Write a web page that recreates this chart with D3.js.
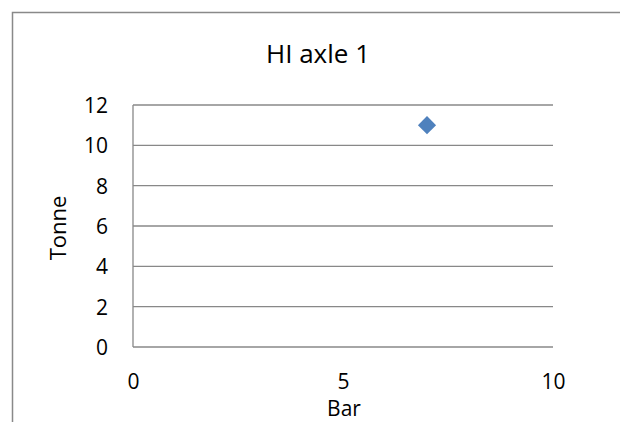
<!DOCTYPE html>
<html>
<head>
<meta charset="utf-8">
<script src="https://cdn.jsdelivr.net/npm/d3@7"></script>
<style>
  body { margin: 0; background: #fff; }
  text { font-family: "Open Sans", sans-serif; fill: #000; }
</style>
</head>
<body>
<div id="chart-container"></div>
<script>
const title = "HI axle 1";
const xLabel = "Bar";
const yLabel = "Tonne";
const xValues = [7];
const yValues = [11];
const xTicks = [0, 5, 10];
const yTicks = [0, 2, 4, 6, 8, 10, 12];

const W = 620, H = 422;
const margin = {top: 105, right: 67, bottom: 75, left: 133},
      width = W - margin.left - margin.right,
      height = H - margin.top - margin.bottom;

const svg = d3.select("#chart-container").append("svg")
    .attr("width", W)
    .attr("height", H);

// outer chart frame (runs off the right and bottom edges)
svg.append("path")
    .attr("d", `M12.5,${H + 5}V12.5H${W + 5}`)
    .attr("fill", "none")
    .attr("stroke", "#898989")
    .attr("stroke-width", 1.5);

svg.append("text")
    .attr("x", 318)
    .attr("y", 63)
    .attr("text-anchor", "middle")
    .style("font-size", "26px")
    .text(title);

const g = svg.append("g")
    .attr("transform", `translate(${margin.left}, ${margin.top})`);

const x = d3.scaleLinear().domain([0, 10]).range([0, width]);
const y = d3.scaleLinear().domain([0, 12]).range([height, 0]);

// gridlines
g.selectAll(".grid")
    .data(yTicks)
    .enter().append("line")
    .attr("x1", 0)
    .attr("x2", width)
    .attr("y1", d => y(d))
    .attr("y2", d => y(d))
    .attr("stroke", "#888")
    .attr("stroke-width", 1.3);

// y axis line
g.append("line")
    .attr("x1", 0).attr("x2", 0)
    .attr("y1", 0).attr("y2", height)
    .attr("stroke", "#888")
    .attr("stroke-width", 1.3);

const yAxis = g.append("g")
    .call(d3.axisLeft(y).tickValues(yTicks).tickSize(0).tickPadding(25));
yAxis.select(".domain").remove();
yAxis.selectAll("text")
    .style("font-size", "21px")
    .style("font-family", "'Open Sans', sans-serif")
    .attr("dy", "0.35em");

const xAxis = g.append("g")
    .attr("transform", `translate(0, ${height})`)
    .call(d3.axisBottom(x).tickValues(xTicks).tickSize(0).tickPadding(27));
xAxis.select(".domain").remove();
xAxis.selectAll("text")
    .style("font-size", "21px")
    .style("font-family", "'Open Sans', sans-serif");

svg.append("text")
    .attr("x", 344)
    .attr("y", 416)
    .attr("text-anchor", "middle")
    .style("font-size", "21px")
    .text(xLabel);

svg.append("text")
    .attr("transform", "translate(66, 228) rotate(-90)")
    .attr("text-anchor", "middle")
    .style("font-size", "22px")
    .text(yLabel);

g.selectAll(".dot")
    .data(xValues.map((v, i) => [v, yValues[i]]))
    .enter().append("path")
    .attr("class", "dot")
    .attr("d", d3.symbol().type(d3.symbolDiamond2).size(210))
    .attr("transform", d => `translate(${x(d[0])}, ${y(d[1])})`)
    .attr("fill", "#4F81BD");
</script>
</body>
</html>
